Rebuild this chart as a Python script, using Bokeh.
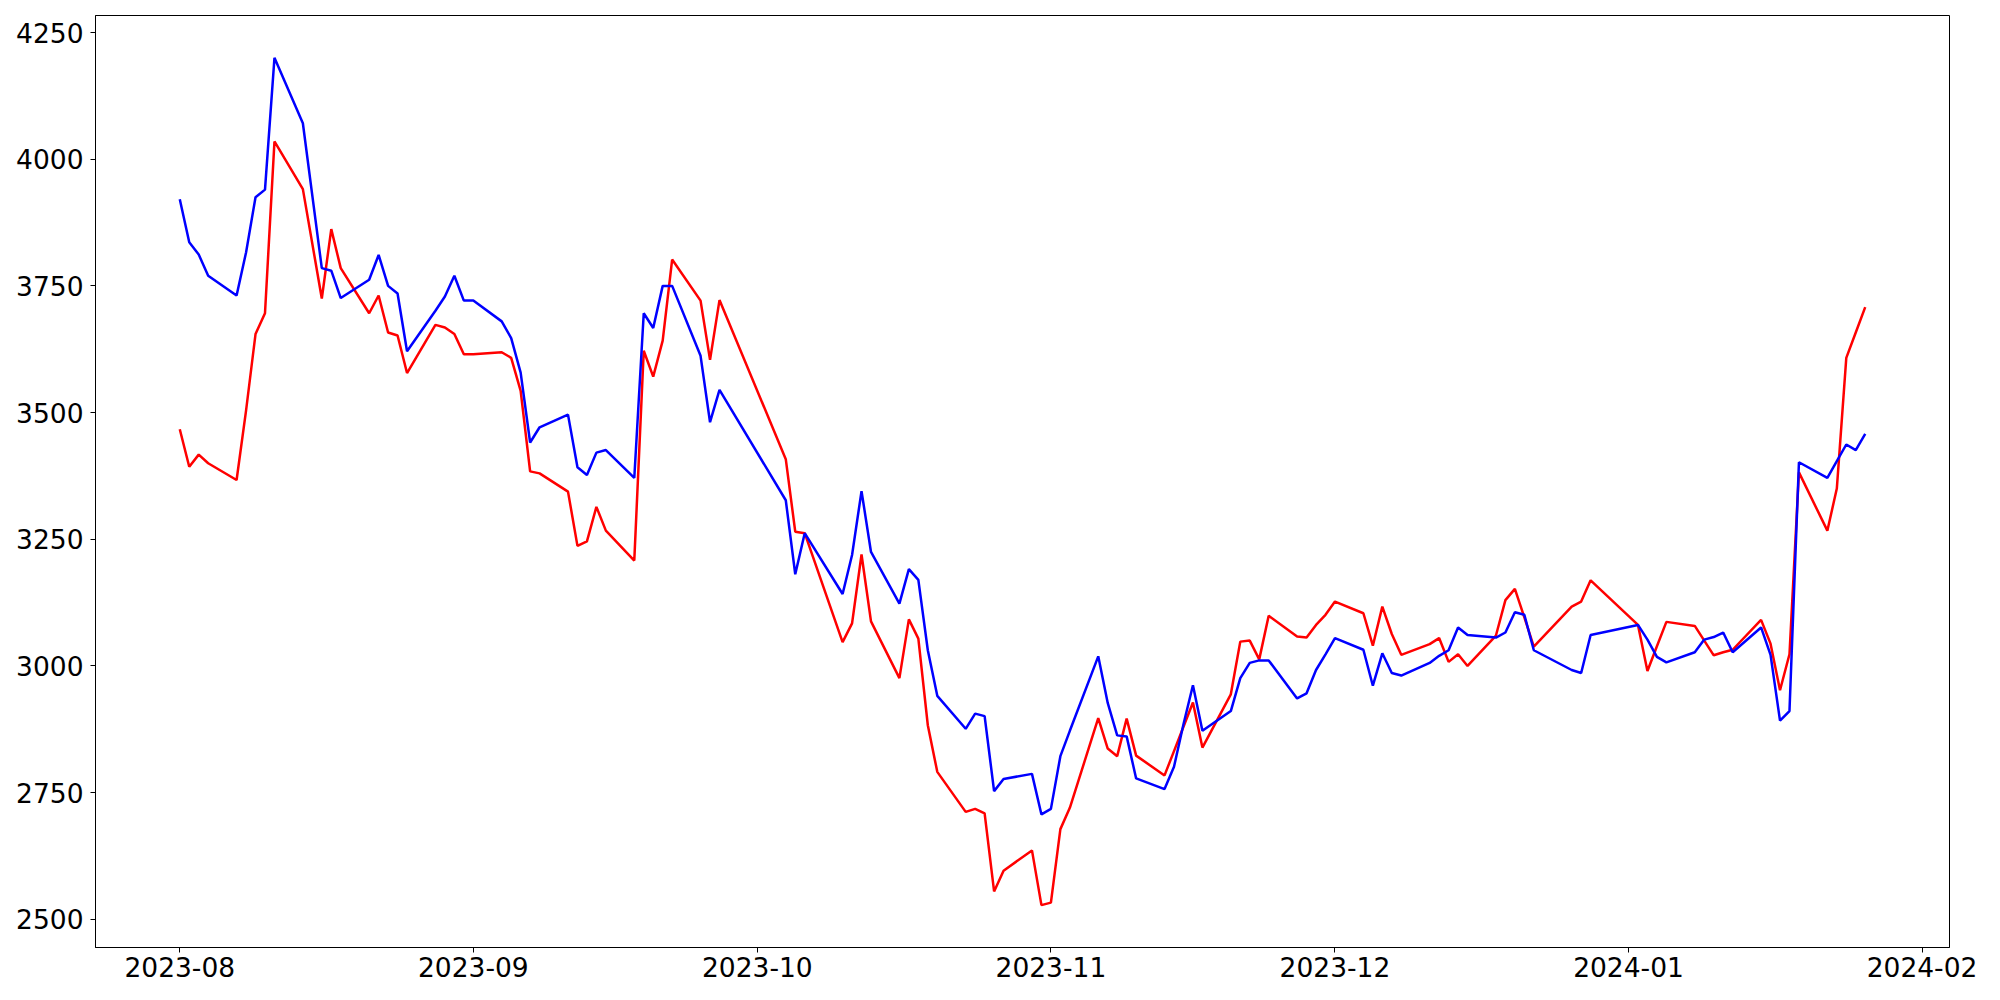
import pandas as pd
from bokeh.plotting import figure
from bokeh.models import FixedTicker, DatetimeTickFormatter, Range1d
from bokeh.embed import file_html
from bokeh.resources import INLINE

dates = [
    "2023-08-01", "2023-08-02", "2023-08-03", "2023-08-04", "2023-08-07", "2023-08-08", "2023-08-09",
    "2023-08-10", "2023-08-11", "2023-08-14", "2023-08-16", "2023-08-17", "2023-08-18", "2023-08-21",
    "2023-08-22", "2023-08-23", "2023-08-24", "2023-08-25", "2023-08-28", "2023-08-29", "2023-08-30",
    "2023-08-31", "2023-09-01", "2023-09-04", "2023-09-05", "2023-09-06", "2023-09-07", "2023-09-08",
    "2023-09-11", "2023-09-12", "2023-09-13", "2023-09-14", "2023-09-15", "2023-09-18", "2023-09-19",
    "2023-09-20", "2023-09-21", "2023-09-22", "2023-09-25", "2023-09-26", "2023-09-27", "2023-10-04",
    "2023-10-05", "2023-10-06", "2023-10-10", "2023-10-11", "2023-10-12", "2023-10-13", "2023-10-16",
    "2023-10-17", "2023-10-18", "2023-10-19", "2023-10-20", "2023-10-23", "2023-10-24", "2023-10-25",
    "2023-10-26", "2023-10-27", "2023-10-30", "2023-10-31", "2023-11-01", "2023-11-02", "2023-11-03",
    "2023-11-06", "2023-11-07", "2023-11-08", "2023-11-09", "2023-11-10", "2023-11-13", "2023-11-14",
    "2023-11-15", "2023-11-16", "2023-11-17", "2023-11-20", "2023-11-21", "2023-11-22", "2023-11-23",
    "2023-11-24", "2023-11-27", "2023-11-28", "2023-11-29", "2023-11-30", "2023-12-01", "2023-12-04",
    "2023-12-05", "2023-12-06", "2023-12-07", "2023-12-08", "2023-12-11", "2023-12-12", "2023-12-13",
    "2023-12-14", "2023-12-15", "2023-12-18", "2023-12-19", "2023-12-20", "2023-12-21", "2023-12-22",
    "2023-12-26", "2023-12-27", "2023-12-28", "2024-01-02", "2024-01-03", "2024-01-04", "2024-01-05",
    "2024-01-08", "2024-01-09", "2024-01-10", "2024-01-11", "2024-01-12", "2024-01-15", "2024-01-16",
    "2024-01-17", "2024-01-18", "2024-01-19", "2024-01-22", "2024-01-23", "2024-01-24", "2024-01-25",
    "2024-01-26",
]

red_values = [
    3467, 3393, 3417, 3400, 3367, 3504, 3655,
    3696, 4035, 3941, 3725, 3862, 3785, 3696,
    3731, 3658, 3652, 3578, 3673, 3668, 3655,
    3615, 3615, 3619, 3608, 3543, 3384, 3380,
    3344, 3237, 3246, 3314, 3267, 3208, 3622,
    3571, 3642, 3802, 3721, 3604, 3722, 3408,
    3265, 3262, 3047, 3084, 3220, 3088, 2976,
    3092, 3054, 2883, 2791, 2712, 2718, 2709,
    2555, 2596, 2636, 2528, 2533, 2678, 2720,
    2897, 2837, 2822, 2896, 2823, 2784, 2832,
    2880, 2928, 2839, 2944, 3048, 3050, 3013,
    3099, 3058, 3056, 3081, 3101, 3127, 3104,
    3040, 3117, 3063, 3022, 3043, 3055, 3008,
    3023, 3000, 3060, 3130, 3152, 3096, 3038,
    3117, 3127, 3169, 3081, 2990, 3039, 3087,
    3079, 3050, 3021, 3027, 3032, 3091, 3044,
    2952, 3023, 3382, 3267, 3350, 3608, 3658,
    3708,
]

blue_values = [
    3921, 3836, 3812, 3770, 3731, 3816, 3925,
    3940, 4200, 4071, 3785, 3780, 3726, 3762,
    3811, 3750, 3735, 3621, 3701, 3729, 3770,
    3721, 3721, 3680, 3647, 3579, 3441, 3471,
    3496, 3392, 3377, 3421, 3426, 3371, 3696,
    3667, 3750, 3750, 3612, 3481, 3545, 3327,
    3181, 3262, 3142, 3219, 3345, 3225, 3123,
    3191, 3170, 3031, 2941, 2876, 2906, 2901,
    2753, 2777, 2787, 2707, 2718, 2822, 2872,
    3019, 2927, 2863, 2861, 2778, 2757, 2801,
    2885, 2962, 2872, 2911, 2976, 3006, 3011,
    3011, 2936, 2946, 2992, 3023, 3055, 3032,
    2961, 3025, 2986, 2981, 3006, 3020, 3031,
    3076, 3061, 3056, 3066, 3106, 3101, 3031,
    2992, 2986, 3061, 3081, 3052, 3018, 3007,
    3027, 3052, 3057, 3066, 3027, 3076, 3022,
    2892, 2911, 3402, 3371, 3404, 3437, 3426,
    3458,
]

x_tick_labels = ["2023-08", "2023-09", "2023-10", "2023-11", "2023-12", "2024-01", "2024-02"]
y_ticks = [2500, 2750, 3000, 3250, 3500, 3750, 4000, 4250]

x = pd.to_datetime(dates)

# matplotlib-like 5% margins
xmin, xmax = x.min(), x.max()
xpad = (xmax - xmin) * 0.05
allv = red_values + blue_values
ymin, ymax = min(allv), max(allv)
ypad = (ymax - ymin) * 0.05

p = figure(width=1990, height=990, x_axis_type="datetime",
           output_backend="svg", toolbar_location=None,
           x_range=Range1d(xmin - xpad, xmax + xpad),
           y_range=Range1d(ymin - ypad, ymax + ypad),
           min_border_left=95, min_border_right=41,
           min_border_top=15, min_border_bottom=43)

p.line(x, red_values, line_color="red", line_width=2.5)
p.line(x, blue_values, line_color="blue", line_width=2.5)

tick_ms = [pd.Timestamp(t + "-01").value // 10**6 for t in x_tick_labels]
p.xaxis.ticker = FixedTicker(ticks=tick_ms)
p.xaxis.formatter = DatetimeTickFormatter(months="%Y-%m", days="%Y-%m", years="%Y-%m")
p.yaxis.ticker = FixedTicker(ticks=y_ticks)

p.xgrid.visible = False
p.ygrid.visible = False
p.outline_line_color = "black"
p.outline_line_width = 1
p.background_fill_color = "white"
p.border_fill_color = "white"

for ax in (p.xaxis[0], p.yaxis[0]):
    ax.major_label_text_font = "DejaVu Sans"
    ax.major_label_text_font_size = "26.5px"
    ax.major_label_text_color = "black"
    ax.axis_line_color = "black"
    ax.major_tick_line_color = "black"
    ax.major_tick_out = 5
    ax.major_tick_in = 0
    ax.minor_tick_out = 0
    ax.minor_tick_in = 0

p.xaxis.major_label_standoff = 4
p.yaxis.major_label_standoff = 7

open("out.html", "w").write(file_html(p, INLINE))
